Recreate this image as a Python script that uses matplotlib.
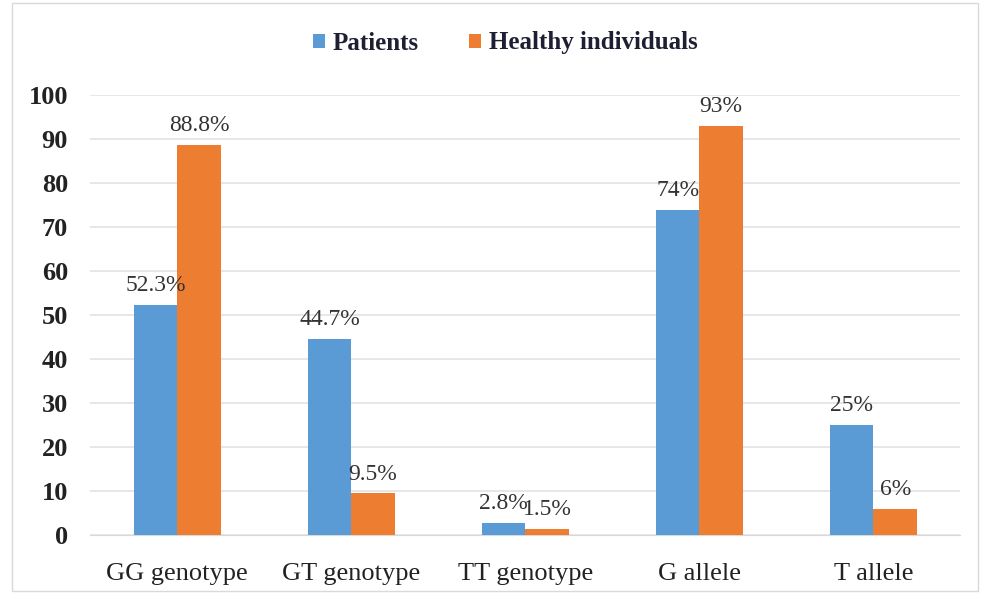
import matplotlib
matplotlib.use("Agg")
from matplotlib import pyplot as plt
from matplotlib.patches import Rectangle
import numpy as np

categories = ["GG genotype", "GT genotype", "TT genotype", "G allele", "T allele"]
patients = [52.3, 44.7, 2.8, 74, 25]
healthy = [88.8, 9.5, 1.5, 93, 6]
patient_labels = ["52.3%", "44.7%", "2.8%", "74%", "25%"]
healthy_labels = ["88.8%", "9.5%", "1.5%", "93%", "6%"]

plt.rcParams['font.family'] = ['Liberation Serif', 'DejaVu Serif']

fig = plt.figure(figsize=(9.81, 6.0), dpi=100)
ax = fig.add_axes([0.092, 0.108, 0.887, 0.733])

x = np.arange(len(categories))
w = 0.25
b1 = ax.bar(x - w / 2, patients, w, color='#5B9BD5', label='Patients', zorder=3)
b2 = ax.bar(x + w / 2, healthy, w, color='#ED7D31', label='Healthy individuals', zorder=3)

for bar, lab in zip(b1, patient_labels):
    ax.text(bar.get_x() + bar.get_width() / 2, bar.get_height() + 2, lab,
            ha='center', va='bottom', fontsize=17, color='#333333', zorder=4)
for bar, lab in zip(b2, healthy_labels):
    ax.text(bar.get_x() + bar.get_width() / 2, bar.get_height() + 2, lab,
            ha='center', va='bottom', fontsize=17, color='#333333', zorder=4)

ax.set_ylim(0, 100)
ax.set_xlim(-0.5, 4.5)
ax.set_yticks(range(0, 101, 10))
ax.set_xticks(x)
ax.set_xticklabels(categories, fontsize=19, color='#222222')
ax.tick_params(axis='y', labelsize=19, length=0, pad=16)
ax.tick_params(axis='x', length=0, pad=20)
for t in ax.get_yticklabels():
    t.set_fontweight('bold')
    t.set_color('#222222')
ax.grid(axis='y', color='#e3e3e3', linewidth=1.2, zorder=0)
for s in ['top', 'right', 'left']:
    ax.spines[s].set_visible(False)
ax.spines['bottom'].set_color('#d9d9d9')

leg = fig.legend(loc='upper center', bbox_to_anchor=(0.515, 0.985), ncol=2, frameon=False,
                 prop={'size': 18, 'weight': 'bold'}, handlelength=0.5, handleheight=0.5,
                 handletextpad=0.3, columnspacing=2.0)
for t in leg.get_texts():
    t.set_color('#1f1f33')

fig.patches.append(Rectangle((0.012, 0.015), 0.985, 0.98, transform=fig.transFigure,
                             fill=False, edgecolor='#d9d9d9', linewidth=1))

fig.savefig("out.png", dpi=100)
